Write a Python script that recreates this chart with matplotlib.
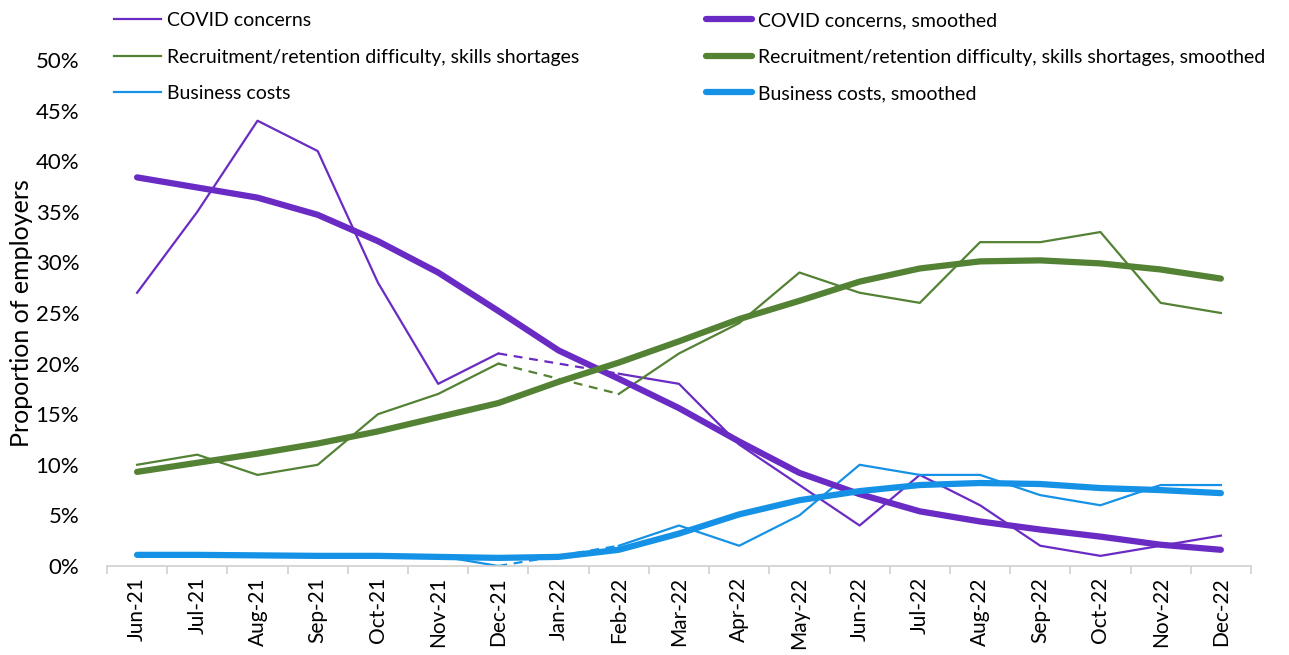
import numpy as np
import matplotlib
matplotlib.use('Agg')
import matplotlib.pyplot as plt

plt.rcParams['font.family'] = ['Lato', 'DejaVu Sans']

months = ['Jun-21', 'Jul-21', 'Aug-21', 'Sep-21', 'Oct-21', 'Nov-21', 'Dec-21',
          'Jan-22', 'Feb-22', 'Mar-22', 'Apr-22', 'May-22', 'Jun-22', 'Jul-22',
          'Aug-22', 'Sep-22', 'Oct-22', 'Nov-22', 'Dec-22']

# raw survey shares (Jan-22 not asked)
covid = [27, 35, 44, 41, 28, 18, 21, np.nan, 19, 18, 12, 8, 4, 9, 6, 2, 1, 2, 3]
recruit = [10, 11, 9, 10, 15, 17, 20, np.nan, 17, 21, 24, 29, 27, 26, 32, 32, 33, 26, 25]
costs = [1, 1, 1, 1, 1, 1, 0, np.nan, 2, 4, 2, 5, 10, 9, 9, 7, 6, 8, 8]

# smoothed series
covid_s = [38.4, 37.4, 36.4, 34.7, 32.1, 29.0, 25.2, 21.3, 18.5, 15.6, 12.3, 9.2,
           7.1, 5.4, 4.4, 3.6, 2.9, 2.1, 1.6]
recruit_s = [9.3, 10.2, 11.1, 12.1, 13.3, 14.7, 16.1, 18.2, 20.1, 22.2, 24.4, 26.2,
             28.1, 29.4, 30.1, 30.2, 29.9, 29.3, 28.4]
costs_s = [1.1, 1.1, 1.05, 1.0, 1.0, 0.9, 0.8, 0.9, 1.6, 3.2, 5.1, 6.5,
           7.4, 8.0, 8.2, 8.1, 7.7, 7.5, 7.2]

PURPLE = '#6A2BC4'
GREEN = '#548235'
BLUE = '#1592E6'

fig = plt.figure(figsize=(12.89, 6.55), dpi=100)
ax = fig.add_axes([0.083, 0.1359, 0.8875, 0.7725])

x = np.arange(len(months))
h = []
for raw, col, name in [(covid, PURPLE, 'COVID concerns'),
                       (recruit, GREEN, 'Recruitment/retention difficulty, skills shortages'),
                       (costs, BLUE, 'Business costs')]:
    ln, = ax.plot(x, np.array(raw) / 100, color=col, lw=1.6, label=name)
    h.append(ln)
    # dashed bridge over the missing month
    ax.plot([x[6], x[8]], [raw[6] / 100, raw[8] / 100], color=col, lw=1.6,
            ls=(0, (4, 3)))

hs = []
for sm, col, name in [(covid_s, PURPLE, 'COVID concerns, smoothed'),
                      (recruit_s, GREEN, 'Recruitment/retention difficulty, skills shortages, smoothed'),
                      (costs_s, BLUE, 'Business costs, smoothed')]:
    ln, = ax.plot(x, np.array(sm) / 100, color=col, lw=4.5, solid_capstyle='round',
                  label=name)
    hs.append(ln)

ax.set_xlim(-0.5, len(months) - 0.5)
ax.set_ylim(0, 0.5)
ax.set_yticks(np.arange(0, 0.51, 0.05))
ax.set_yticklabels([f'{int(round(v * 100))}%' for v in np.arange(0, 0.51, 0.05)],
                   fontsize=16)
ax.tick_params(axis='y', length=0, pad=20)

ax.set_xticks(x)
ax.set_xticklabels(months, rotation=90, fontsize=15)
ax.set_xticks(np.arange(-0.5, len(months)), minor=True)
ax.tick_params(axis='x', which='major', length=0, pad=8)
ax.tick_params(axis='x', which='minor', length=6, color='#D0D0D0', width=1.2)

for s in ['top', 'right', 'left']:
    ax.spines[s].set_visible(False)
ax.spines['bottom'].set_color('#D0D0D0')
ax.spines['bottom'].set_linewidth(1.2)

ax.set_ylabel('Proportion of employers', fontsize=18, labelpad=2)

fig.legend(handles=h, loc='upper left', bbox_to_anchor=(0.075, 1.008),
           frameon=False, fontsize=14, handlelength=2.4, labelspacing=1.0,
           handletextpad=0.3)
fig.legend(handles=hs, loc='upper left', bbox_to_anchor=(0.534, 1.008),
           frameon=False, fontsize=14, handlelength=2.4, labelspacing=1.0,
           handletextpad=0.3)

fig.savefig('out.png', dpi=100)
